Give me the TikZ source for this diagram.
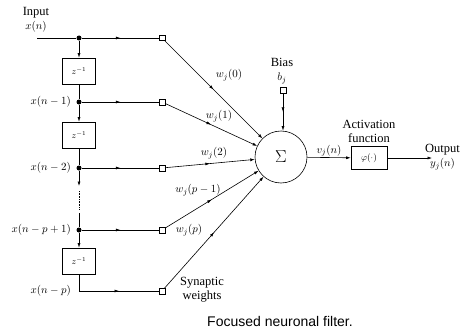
\documentclass[tikz,border=0pt]{standalone}
\usepackage{fontspec}
\setmainfont{Liberation Serif}
\newfontfamily\captionfont{Liberation Sans}
\usetikzlibrary{arrows.meta, decorations.markings}
\newcommand{\wordlbl}[1]{{\fontsize{12.5}{13}\selectfont #1}}

\begin{document}
\begin{tikzpicture}[x=1pt, y=-1pt,
      lbl/.style={font=\fontsize{11}{14}\selectfont, inner sep=1pt, align=center},
      dot/.style={circle, fill=black, inner sep=0pt, minimum size=5pt},
      delay/.style={draw, line width=0.6pt, minimum width=33pt, minimum height=26pt, font=\fontsize{9}{10}\selectfont},
      sq/.style={draw, line width=0.5pt, fill=white, inner sep=0pt, minimum size=5.5pt},
      sumnode/.style={circle, draw, line width=0.6pt, minimum size=52pt, inner sep=0pt, font=\LARGE},
      actbox/.style={draw, line width=0.6pt, minimum width=36pt, minimum height=23pt, font=\fontsize{9.5}{10}\selectfont},
      wire/.style={line width=0.6pt},
      tip/.style={wire, -{Latex[length=4.5pt, width=3pt]}},
      midarrow/.style={wire, postaction={decorate}, decoration={markings,
        mark=at position 0.5 with {\arrow{Latex[length=4.5pt, width=3pt]}}}}
    ]
    \useasboundingbox (0,0) rectangle (468,329);

    % tapped delay line
    \coordinate (in) at (37,38);
    \node[dot] (d0) at (79,38) {};
    \node[delay] (z1) at (79,71) {$z^{-1}$};
    \node[dot] (d1) at (79,102) {};
    \node[delay] (z2) at (79,135) {$z^{-1}$};
    \node[dot] (d2) at (79,168) {};
    \coordinate (g1) at (79,186);
    \coordinate (g2) at (79,191);
    \coordinate (g3) at (79,209);
    \coordinate (g4) at (79,213);
    \node[dot] (d3) at (79,230) {};
    \node[delay] (z3) at (79,261) {$z^{-1}$};
    \coordinate (d4) at (79,291);

    \node[lbl, anchor=south] (inlbl) at (36,33) {\wordlbl{Input}\\$x(n)$};
    \node[lbl, anchor=east] (x1) at (72,102) {$x(n-1)$};
    \node[lbl, anchor=east] (x2) at (72,168) {$x(n-2)$};
    \node[lbl, anchor=east] (x3) at (72,230) {$x(n-p+1)$};
    \node[lbl, anchor=east] (x4) at (72,291) {$x(n-p)$};

    \draw[wire] (in) -- (d0);
    \draw[tip] (d0) -- (z1);
    \draw[wire] (z1) -- (d1);
    \draw[tip] (d1) -- (z2);
    \draw[wire] (z2) -- (d2);
    \draw[tip] (d2) -- (g1);
    \draw[wire, densely dotted] (g2) -- (g3);
    \draw[wire] (g4) -- (d3);
    \draw[tip] (d3) -- (z3);
    \draw[wire] (z3) -- (d4);

    % synaptic weights
    \foreach \i/\y in {0/38, 1/102, 2/168, 3/230, 4/291} {
      \node[sq] (s\i) at (162,\y) {};
      \draw[midarrow] (d\i) -- (s\i);
    }

    \node[sumnode] (sum) at (281,157) {$\Sigma$};
    \foreach \i in {0,...,4} {
      \draw[midarrow, -{Latex[length=4.5pt, width=3pt]}] (s\i) -- (sum);
    }

    \node[lbl] (w0) at (229,75) {$w_j(0)$};
    \node[lbl] (w1) at (219,116) {$w_j(1)$};
    \node[lbl] (w2) at (214,153) {$w_j(2)$};
    \node[lbl] (w3) at (198,190) {$w_j(p-1)$};
    \node[lbl] (w4) at (189,230) {$w_j(p)$};
    \node[lbl] (synlbl) at (202,290) {\wordlbl{Synaptic}\\\wordlbl{weights}};

    % bias
    \node[sq] (sb) at (283,90) {};
    \node[lbl, anchor=south] (biaslbl) at (282,85) {\wordlbl{Bias}\\$b_j$};
    \draw[midarrow, -{Latex[length=4.5pt, width=3pt]}] (sb) -- (sb |- sum.north);

    % activation and output
    \node[actbox] (phi) at (369,158) {$\varphi(\cdot)$};
    \node[lbl, anchor=south] (actlbl) at (369,144) {\wordlbl{Activation}\\\wordlbl{function}};
    \coordinate (out) at (432,158);
    \node[lbl, anchor=west] (outlbl) at (424,157) {\wordlbl{Output}\\$y_j(n)$};
    \draw[tip] (sum) -- node[lbl, above] (vlbl) {$v_j(n)$} (phi);
    \draw[tip] (phi) -- (out);

    \node[font=\captionfont\fontsize{14}{16}\selectfont] (caption) at (280,321) {Focused neuronal filter.};
  \end{tikzpicture}
\end{document}
